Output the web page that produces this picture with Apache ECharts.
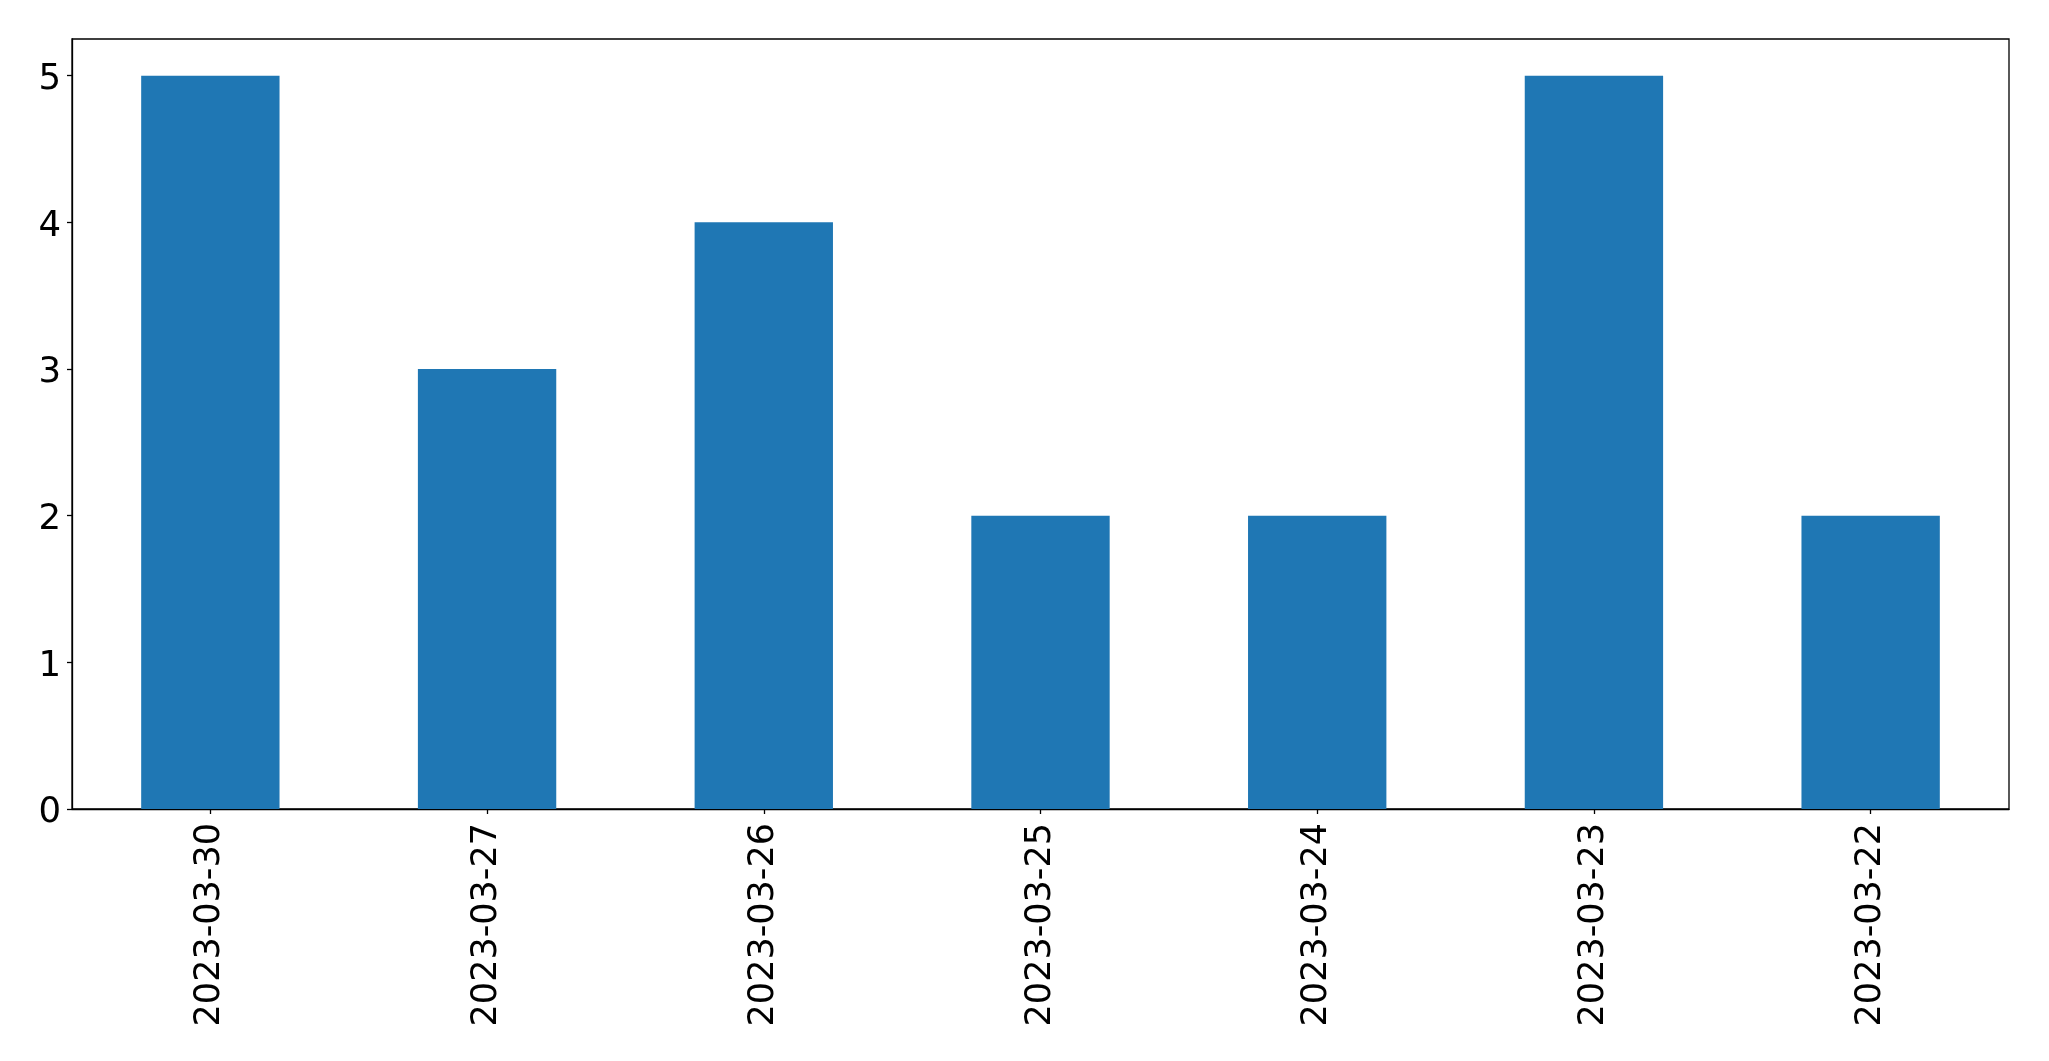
<!DOCTYPE html>
<html>
<head>
<meta charset="utf-8">
<script src="https://cdn.jsdelivr.net/npm/echarts@6/dist/echarts.min.js"></script>
<style>
html,body{margin:0;padding:0;background:#fff;}
#chart{width:2049px;height:1061px;}
</style>
</head>
<body>
<div id="chart"></div>
<script>
const categories = ['2023-03-30','2023-03-27','2023-03-26','2023-03-25','2023-03-24','2023-03-23','2023-03-22'];
const values = [5, 3, 4, 2, 2, 5, 2];
const yTicks = [0, 1, 2, 3, 4, 5];

const chart = echarts.init(document.getElementById('chart'));
const font = 'DejaVu Sans';
chart.setOption({
  animation: false,
  grid: {left: 72, right: 40, top: 39, bottom: 252, show: true, borderColor: '#000', borderWidth: 1.3, containLabel: false},
  xAxis: {
    type: 'category',
    data: categories,
    axisLine: {show: true, lineStyle: {color: '#000', width: 1.3}},
    axisTick: {show: true, alignWithLabel: true, length: 5, lineStyle: {color: '#000', width: 1.3}},
    axisLabel: {rotate: 90, margin: 14, fontSize: 35, fontFamily: font, color: '#000', interval: 0},
    splitLine: {show: false}
  },
  yAxis: {
    type: 'value',
    min: 0, max: 5.25, interval: 1,
    axisLine: {show: true, lineStyle: {color: '#000', width: 1.3}},
    axisTick: {show: true, length: 5, customValues: yTicks, lineStyle: {color: '#000', width: 1.3}},
    axisLabel: {
      margin: 11, fontSize: 35.5, fontFamily: font, color: '#000', customValues: yTicks,
      formatter: '{a|{value}}',
      rich: {a: {fontSize: 35.5, fontFamily: font, color: '#000', padding: [8, 0, 0, 0]}}
    },
    splitLine: {show: false}
  },
  series: [{
    type: 'bar',
    data: values,
    barWidth: '50%',
    itemStyle: {color: '#1f77b4'}
  }]
});
</script>
</body>
</html>
